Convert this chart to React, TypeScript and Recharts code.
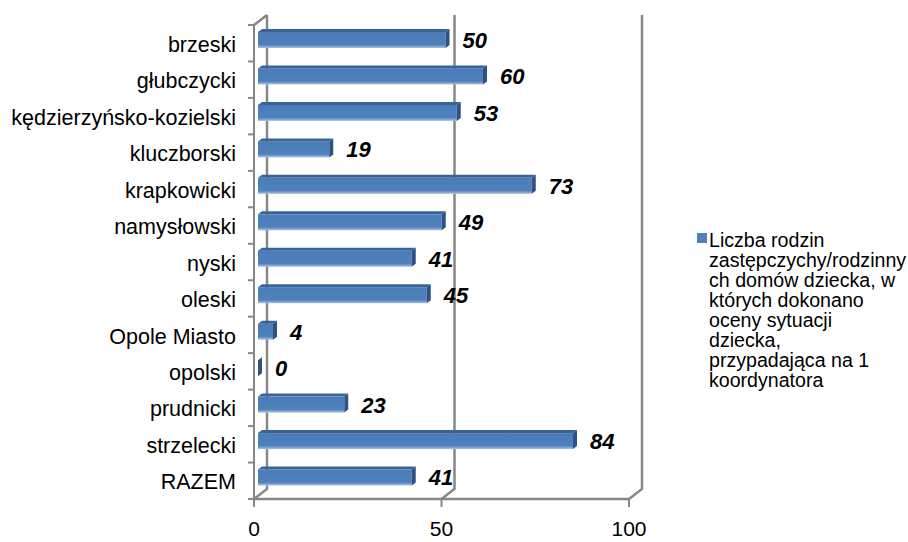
import { BarChart, Bar, XAxis, YAxis, CartesianGrid, Legend, LabelList } from "recharts";

const powiaty = [
  "brzeski",
  "głubczycki",
  "kędzierzyńsko-kozielski",
  "kluczborski",
  "krapkowicki",
  "namysłowski",
  "nyski",
  "oleski",
  "Opole Miasto",
  "opolski",
  "prudnicki",
  "strzelecki",
  "RAZEM",
];
const liczba = [50, 60, 53, 19, 73, 49, 41, 45, 4, 0, 23, 84, 41];
const xTicks = [0, 50, 100];
const seriesName =
  "Liczba rodzin zastępczychy/rodzinnych domów dziecka, w których dokonano oceny sytuacji dziecka, przypadająca na 1 koordynatora";
const legendLines = [
  "Liczba rodzin",
  "zastępczychy/rodzinny",
  "ch domów dziecka, w",
  "których dokonano",
  "oceny sytuacji",
  "dziecka,",
  "przypadająca na 1",
  "koordynatora",
];

const data = powiaty.map((name, i) => ({ name, value: liczba[i] }));

const FONT = '"Liberation Sans", Arial, sans-serif';
const GRAY = "#878787";

// 3d bar: front face + top + right end
const Bar3D = (p: any) => {
  const { x, y, width, height } = p;
  const fx = x + 4;
  const fy = y - 3;
  const w = Math.max(width, 0);
  const h = height;
  const d = 4;
  const e = 3;
  return (
    <g>
      {w > 0 && <rect x={fx} y={fy} width={w} height={h} fill="url(#frontGrad)" />}
      {w > 0 && (
        <polygon
          points={`${fx},${fy} ${fx + d},${fy - e} ${fx + w + d},${fy - e} ${fx + w},${fy}`}
          fill="#3b6496"
        />
      )}
      <polygon
        points={`${fx + w},${fy} ${fx + w + d},${fy - e} ${fx + w + d},${fy + h - e} ${fx + w},${fy + h}`}
        fill="#2e5283"
      />
    </g>
  );
};

const ValueLabel = (p: any) => {
  const vb = p.viewBox || p;
  const { x, y, width, height } = vb;
  return (
    <text
      x={x + width + 21}
      y={y + height / 2 - 3}
      dy="0.36em"
      fontSize={22}
      fontWeight="bold"
      fontStyle="italic"
      fontFamily={FONT}
      fill="#000"
    >
      {p.value}
    </text>
  );
};

const PowiatTick = (p: any) => {
  const { x, y, payload, index } = p;
  const off = payload.offset ?? 18.2;
  const ax = x + 18;
  const last = index === powiaty.length - 1;
  return (
    <g>
      <line x1={ax - 6} x2={ax} y1={y - off} y2={y - off} stroke={GRAY} strokeWidth={2} />
      {last && <line x1={ax - 6} x2={ax} y1={y + off} y2={y + off} stroke={GRAY} strokeWidth={2} />}
      <text x={x} y={y} dy="0.4em" textAnchor="end" fontSize={21.5} fontFamily={FONT} fill="#000">
        {payload.value}
      </text>
    </g>
  );
};

// back wall lines with the slanted floor edges
const WallLine = (p: any) => {
  const { x1, y1, y2, index } = p;
  let d = `M${x1},${y2} L${x1 + 13},${y2 - 10} L${x1 + 13},${y1 - 10}`;
  if (index === 0) d += ` M${x1},${y1} L${x1 + 13},${y1 - 10}`;
  return <path key={`wall-${index}`} d={d} stroke={GRAY} strokeWidth={2.5} fill="none" />;
};

const LegendBox = () => (
  <div style={{ position: "relative", fontFamily: FONT, fontSize: 19.6, lineHeight: "20px", color: "#000" }}>
    <div style={{ position: "absolute", left: 0, top: 3, width: 10, height: 10, background: "#4f81bd" }} />
    <div style={{ marginLeft: 12, whiteSpace: "nowrap" }} title={seriesName}>
      {legendLines.map((l, i) => (
        <div key={i}>{l}</div>
      ))}
    </div>
  </div>
);

export default function App() {
  return (
    <div style={{ position: "absolute", left: 0, top: 0, width: 908, height: 542, background: "#fff" }}>
      <BarChart
        width={908}
        height={542}
        data={data}
        layout="vertical"
        margin={{ top: 25, right: 279, bottom: 13, left: 4 }}
        barSize={16}
      >
        <defs>
          <linearGradient id="frontGrad" x1="0" y1="0" x2="0" y2="1">
            <stop offset="0%" stopColor="#4a7cb9" />
            <stop offset="80%" stopColor="#4f81bd" />
            <stop offset="100%" stopColor="#a9c3e3" />
          </linearGradient>
        </defs>
        <CartesianGrid horizontal={false} vertical={(props: any) => <WallLine {...props} />} />
        <XAxis
          type="number"
          domain={[0, 100]}
          ticks={xTicks}
          interval={0}
          height={30}
          tickSize={8}
          tickMargin={14}
          axisLine={{ stroke: GRAY, strokeWidth: 2.5 }}
          tickLine={{ stroke: GRAY, strokeWidth: 2 }}
          tick={{ fontSize: 21, fill: "#000", fontFamily: FONT }}
        />
        <YAxis
          type="category"
          dataKey="name"
          width={250}
          interval={0}
          tickSize={6}
          tickMargin={12}
          tickLine={false}
          axisLine={{ stroke: GRAY, strokeWidth: 2 }}
          tick={(props: any) => <PowiatTick {...props} />}
        />
        <Legend
          layout="horizontal"
          verticalAlign="middle"
          align="center"
          wrapperStyle={{ left: 697, top: 230, width: 211, right: "auto", bottom: "auto" }}
          content={() => <LegendBox />}
        />
        <Bar dataKey="value" name={seriesName} shape={(props: any) => <Bar3D {...props} />} isAnimationActive={false}>
          <LabelList dataKey="value" content={(props: any) => <ValueLabel {...props} />} />
        </Bar>
      </BarChart>
    </div>
  );
}
